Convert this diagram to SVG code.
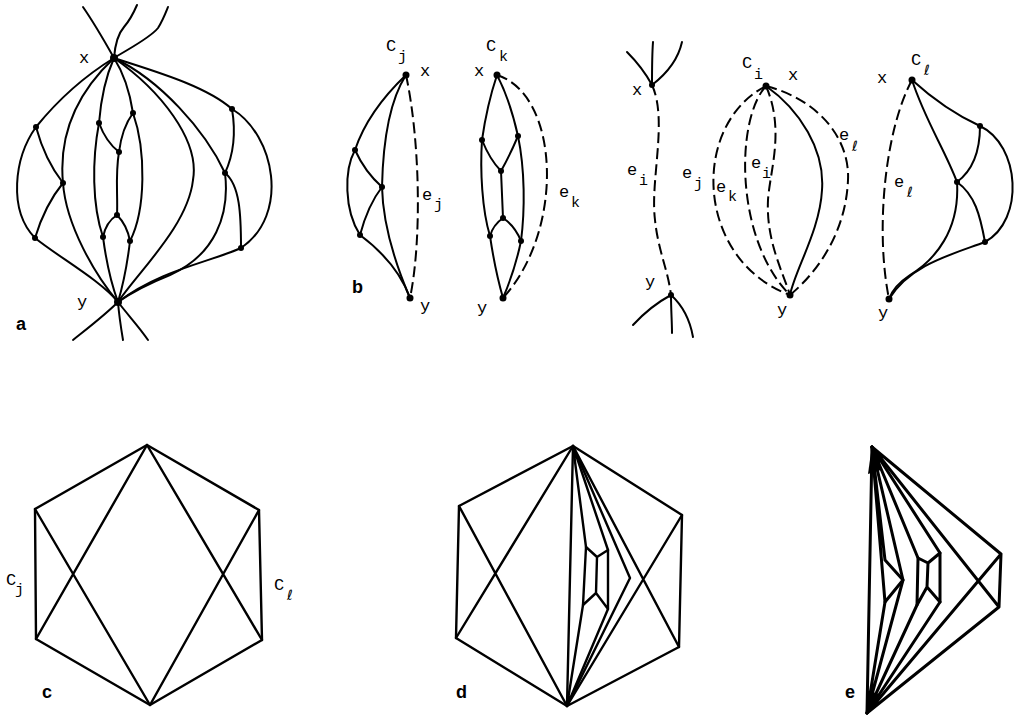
<svg xmlns="http://www.w3.org/2000/svg" width="1016" height="715" viewBox="0 0 1016 715">
<style>
.e{fill:none;stroke:#000;stroke-width:2;stroke-linecap:round;stroke-linejoin:round}
.g{fill:none;stroke:#000;stroke-width:2.4;stroke-linecap:round;stroke-linejoin:round}
.h{fill:none;stroke:#000;stroke-width:3;stroke-linecap:round;stroke-linejoin:round}
.d{fill:none;stroke:#000;stroke-width:2;stroke-dasharray:11 5}
.v{fill:#000}
.t{font-family:"Liberation Mono","DejaVu Sans Mono",monospace;font-size:17px;fill:#000}
.s{font-family:"Liberation Mono","DejaVu Sans Mono",monospace;font-size:15px;fill:#000}
.l{font-family:"DejaVu Sans","DejaVu Serif",sans-serif;font-size:14px;fill:#000}
.b{font-family:"Liberation Sans",Arial,sans-serif;font-weight:bold;font-size:18px;fill:#000}
</style>
<rect width="1016" height="715" fill="#fff"/>
<g id="connectors">
<g id="a-edges">
<path class="e" d="M114,58 C105,42 92,20 83,7"/>
<path class="e" d="M114,58 C115,45 117,35 124,27 C130,20 134,12 137,5"/>
<path class="e" d="M114,58 C130,48 150,38 158,28 C163,20 166,12 168,7"/>
<path class="e" d="M118,302 C105,315 88,328 73,340"/>
<path class="e" d="M118,302 C119,315 121,328 123,340"/>
<path class="e" d="M118,302 C128,315 140,328 148,340"/>
<path class="e" d="M114,58 Q70,85 36,127"/>
<path class="e" d="M36,127 C14,158 8,210 35,238"/>
<path class="e" d="M36,127 Q45,160 63,183"/>
<path class="e" d="M63,183 Q45,205 35,238"/>
<path class="e" d="M35,238 C60,258 100,280 118,302"/>
<path class="e" d="M114,58 C80,90 58,130 63,183 C66,225 95,275 118,302"/>
<path class="e" d="M114,58 Q102,85 99,123"/>
<path class="e" d="M99,123 C92,160 92,205 103,237"/>
<path class="e" d="M99,123 Q106,142 119,152"/>
<path class="e" d="M114,58 Q128,80 133,113"/>
<path class="e" d="M133,113 Q122,128 119,152"/>
<path class="e" d="M133,113 C146,150 146,210 130,241"/>
<path class="e" d="M119,152 C115,175 118,195 117,215"/>
<path class="e" d="M117,215 Q106,222 103,237"/>
<path class="e" d="M117,215 Q127,225 130,241"/>
<path class="e" d="M103,237 Q108,275 118,302"/>
<path class="e" d="M130,241 Q126,275 118,302"/>
<path class="e" d="M114,58 C160,90 200,140 193,180 C188,225 140,270 118,302"/>
<path class="e" d="M114,58 C160,80 205,130 225,173"/>
<path class="e" d="M225,173 C230,215 215,255 170,275 C145,285 128,295 118,302"/>
<path class="e" d="M114,58 C150,70 205,85 232,109"/>
<path class="e" d="M232,109 Q238,145 225,173"/>
<path class="e" d="M232,109 C275,135 290,215 241,248"/>
<path class="e" d="M225,173 C240,185 241,215 241,248"/>
<path class="e" d="M241,248 C210,262 160,270 118,302"/>
</g>
<g id="b-cj-edges">
<path class="e" d="M406,75 C385,95 365,120 355,150"/>
<path class="e" d="M355,150 Q365,172 382,187"/>
<path class="e" d="M355,150 C344,170 344,210 360,235"/>
<path class="e" d="M382,187 Q368,205 360,235"/>
<path class="e" d="M360,235 C380,250 400,270 410,298"/>
<path class="e" d="M406,75 C390,100 383,140 382,187"/>
<path class="e" d="M382,187 C383,230 398,270 410,298"/>
<path class="d" d="M406,75 C420,140 422,240 410,298"/>
</g>
<g id="b-ck-edges">
<path class="e" d="M497,75 Q487,105 482,140"/>
<path class="e" d="M497,75 Q510,100 518,136"/>
<path class="e" d="M482,140 Q490,160 501,171"/>
<path class="e" d="M518,136 Q510,155 501,171"/>
<path class="e" d="M501,171 L503,218"/>
<path class="e" d="M503,218 Q493,225 490,236"/>
<path class="e" d="M503,218 Q515,226 521,241"/>
<path class="e" d="M482,140 C480,170 482,210 490,236"/>
<path class="e" d="M518,136 C525,170 525,210 521,241"/>
<path class="e" d="M490,236 Q495,270 503,298"/>
<path class="e" d="M521,241 Q515,270 503,298"/>
<path class="d" d="M497,75 C560,95 565,230 503,298"/>
</g>
<g id="b-ei-edges">
<path class="e" d="M652,85 C645,72 635,60 627,52"/>
<path class="e" d="M652,85 C652,70 652,55 653,42"/>
<path class="e" d="M652,85 C665,75 678,60 682,42"/>
<path class="e" d="M671,295 C658,302 645,312 633,325"/>
<path class="e" d="M671,295 C671,310 672,322 672,333"/>
<path class="e" d="M671,295 C682,305 690,320 693,337"/>
<path class="d" d="M652,85 C668,120 650,180 655,220 C658,250 668,270 671,295"/>
</g>
<g id="b-ci-edges">
<path class="d" d="M766,86 C690,125 695,260 790,295"/>
<path class="d" d="M766,86 C735,120 735,240 790,295"/>
<path class="d" d="M766,86 C785,130 770,170 768,200 C766,240 782,270 790,295"/>
<path class="e" d="M766,86 C800,110 825,150 822,190 C820,230 795,270 790,295"/>
<path class="d" d="M766,86 C820,100 850,140 848,180 C846,230 820,270 790,295"/>
</g>
<g id="b-cl-edges">
<path class="d" d="M912,80 C885,130 875,230 889,299"/>
<path class="e" d="M912,80 Q945,110 980,126"/>
<path class="e" d="M912,80 C925,120 945,150 957,182"/>
<path class="e" d="M980,126 Q980,165 957,182"/>
<path class="e" d="M980,126 C1020,145 1025,220 985,242"/>
<path class="e" d="M957,182 C975,195 980,215 985,242"/>
<path class="e" d="M957,182 C960,230 935,260 910,275 C898,283 892,290 889,299"/>
<path class="e" d="M985,242 C950,255 910,265 889,299"/>
</g>
<g id="c-edges">
<path class="g" d="M147,445 L35,509 L36,639 L150,705 L262,640 L259,510 Z"/>
<path class="g" d="M147,445 L36,639 M35,509 L150,705 M147,445 L262,640 M259,510 L150,705"/>
</g>
<g id="d-edges">
<path class="g" d="M573,446 L459,506 L456,638 L567,706 L679,647 L682,515 Z"/>
<path class="g" d="M573,446 L456,638 M459,506 L567,706 M573,446 L679,647 M682,515 L567,706"/>
<path class="g" d="M573,446 L567,706"/>
<path class="g" d="M573,446 L586,547 M573,446 L608,550"/>
<path class="g" d="M586,547 L597,557 L608,550 M597,557 L596,593 M583,605 L596,593 L608,609 M586,547 L583,605 M608,550 L608,609"/>
<path class="g" d="M583,605 L567,706 M608,609 L567,706"/>
<path class="g" d="M573,446 L630,578 L567,706"/>
</g>
<g id="e-edges">
<path class="h" d="M872,447 L867,713"/>
<path class="h" d="M872,447 L885,560 L903,580 L885,602 Z"/>
<path class="h" d="M872,447 L903,580 L867,713 M885,602 L867,713"/>
<path class="h" d="M872,447 L918,558 M872,447 L940,553"/>
<path class="h" d="M918,558 L928,563 L940,553 M928,563 L927,587 M917,605 L927,587 L940,602 M918,558 L917,605 M940,553 L940,602"/>
<path class="h" d="M917,605 L867,713 M940,602 L867,713"/>
<path class="h" d="M872,447 L1001,554 L999,607 L867,713 M872,447 L999,607 M867,713 L1001,554"/>
<path class="v" d="M872,445 L868,474 L881,470 Z"/>
<path class="v" d="M867,714 L866,690 L879,694 Z"/>
</g>
</g>
<g id="nodes-a">
<circle class="v" cx="114" cy="58" r="4"/><circle class="v" cx="118" cy="302" r="4"/>
<circle class="v" cx="36" cy="127" r="3"/><circle class="v" cx="63" cy="183" r="3"/><circle class="v" cx="35" cy="238" r="3"/>
<circle class="v" cx="99" cy="123" r="3"/><circle class="v" cx="133" cy="113" r="3"/><circle class="v" cx="119" cy="152" r="3"/>
<circle class="v" cx="117" cy="215" r="3"/><circle class="v" cx="103" cy="237" r="3"/><circle class="v" cx="130" cy="241" r="3"/>
<circle class="v" cx="232" cy="109" r="3"/><circle class="v" cx="225" cy="173" r="3"/><circle class="v" cx="241" cy="248" r="3"/>
</g>
<g id="nodes-b">
<circle class="v" cx="406" cy="75" r="3.5"/><circle class="v" cx="410" cy="298" r="3.5"/>
<circle class="v" cx="355" cy="150" r="3"/><circle class="v" cx="382" cy="187" r="3"/><circle class="v" cx="360" cy="235" r="3"/>
<circle class="v" cx="497" cy="75" r="3.5"/><circle class="v" cx="503" cy="298" r="3.5"/>
<circle class="v" cx="482" cy="140" r="3"/><circle class="v" cx="518" cy="136" r="3"/><circle class="v" cx="501" cy="171" r="3"/>
<circle class="v" cx="503" cy="218" r="3"/><circle class="v" cx="490" cy="236" r="3"/><circle class="v" cx="521" cy="241" r="3"/>
<circle class="v" cx="652" cy="85" r="3"/><circle class="v" cx="671" cy="295" r="3"/>
<circle class="v" cx="766" cy="86" r="3.5"/><circle class="v" cx="790" cy="295" r="3.5"/>
<circle class="v" cx="912" cy="80" r="3.5"/><circle class="v" cx="889" cy="299" r="3.5"/>
<circle class="v" cx="980" cy="126" r="3"/><circle class="v" cx="957" cy="182" r="3"/><circle class="v" cx="985" cy="242" r="3"/>
</g>
<g id="labels">
<text class="t" x="79" y="63">x</text>
<text class="t" x="77" y="307">y</text>
<text class="b" x="16" y="330">a</text>
<text class="t" x="386" y="51">C</text><text class="s" x="398" y="61">j</text>
<text class="t" x="420" y="76">x</text>
<text class="t" x="420" y="311">y</text>
<text class="t" x="422" y="200">e</text><text class="s" x="434" y="209">j</text>
<text class="b" x="352" y="293">b</text>
<text class="t" x="486" y="51">C</text><text class="s" x="499" y="61">k</text>
<text class="t" x="474" y="76">x</text>
<text class="t" x="477" y="313">y</text>
<text class="t" x="559" y="197">e</text><text class="s" x="571" y="207">k</text>
<text class="t" x="632" y="95">x</text>
<text class="t" x="627" y="175">e</text><text class="s" x="639" y="185">i</text>
<text class="t" x="645" y="287">y</text>
<text class="t" x="742" y="68">C</text><text class="s" x="754" y="79">i</text>
<text class="t" x="788" y="80">x</text>
<text class="t" x="682" y="178">e</text><text class="s" x="694" y="188">j</text>
<text class="t" x="716" y="192">e</text><text class="s" x="728" y="201">k</text>
<text class="t" x="751" y="168">e</text><text class="s" x="762" y="178">i</text>
<text class="t" x="839" y="140">e</text><text class="l" x="852" y="151">ℓ</text>
<text class="t" x="777" y="315">y</text>
<text class="t" x="911" y="65">C</text><text class="l" x="924" y="75">ℓ</text>
<text class="t" x="877" y="83">x</text>
<text class="t" x="894" y="187">e</text><text class="l" x="907" y="197">ℓ</text>
<text class="t" x="878" y="318">y</text>
<text class="t" x="6" y="585">C</text><text class="s" x="15" y="594">j</text>
<text class="t" x="274" y="590">C</text><text class="l" x="287" y="600">ℓ</text>
<text class="b" x="42" y="698">c</text>
<text class="b" x="456" y="698">d</text>
<text class="b" x="845" y="698">e</text>
</g>
</svg>
